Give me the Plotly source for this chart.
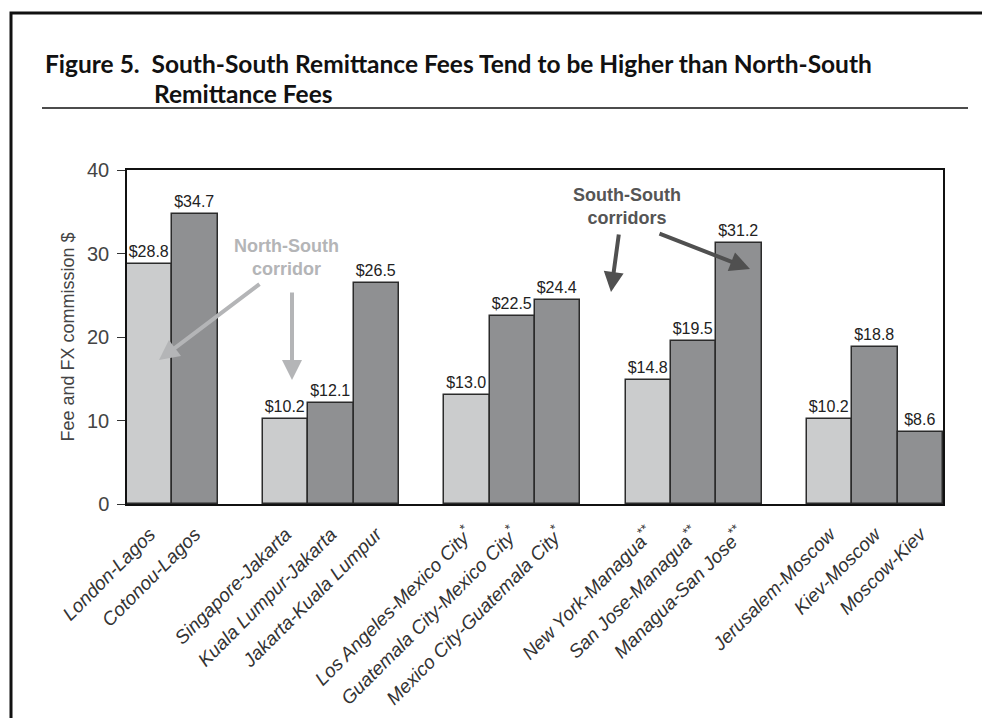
import plotly.graph_objects as go

# ---- data ----
corridors = ["London-Lagos", "Cotonou-Lagos",
             "Singapore-Jakarta", "Kuala Lumpur-Jakarta", "Jakarta-Kuala Lumpur",
             "Los Angeles-Mexico City*", "Guatemala City-Mexico City*", "Mexico City-Guatemala City*",
             "New York-Managua**", "San Jose-Managua**", "Managua-San Jose**",
             "Jerusalem-Moscow", "Kiev-Moscow", "Moscow-Kiev"]
fees = [28.8, 34.7, 10.2, 12.1, 26.5, 13.0, 22.5, 24.4, 14.8, 19.5, 31.2, 10.2, 18.8, 8.6]
corridor_type = ["NS", "SS", "NS", "SS", "SS", "NS", "SS", "SS", "NS", "SS", "SS", "NS", "SS", "SS"]
group_id = [1, 1, 2, 2, 2, 3, 3, 3, 4, 4, 4, 5, 5, 5]

title_line1 = "Figure 5.  South-South Remittance Fees Tend to be Higher than North-South"
title_line2 = "Remittance Fees"
y_title = "Fee and FX commission $"

# category order with blank spacer slots between groups
order = []
prev = None
for c, g in zip(corridors, group_id):
    if prev is not None and g != prev:
        order.append(f"_gap{g}")
    order.append(c)
    prev = g

def tick_label(name):
    base = name.rstrip("*")
    stars = name[len(base):]
    return base + (f"<sup>{stars}</sup>" if stars else "")

LIGHT = "#cbcccd"
DARK = "#8f9092"
SANS = "Liberation Sans, Arial, sans-serif"
fig = go.Figure()
for t, col in (("NS", LIGHT), ("SS", DARK)):
    xs = [c for c, k in zip(corridors, corridor_type) if k == t]
    ys = [v for v, k in zip(fees, corridor_type) if k == t]
    fig.add_trace(go.Bar(
        x=xs, y=ys,
        marker=dict(color=col, line=dict(color="#2b2b2b", width=1.5)),
        text=[f"${v:.1f}" for v in ys], textposition="outside",
        textfont=dict(family=SANS, size=16, color="#222"),
        cliponaxis=False, showlegend=False, hoverinfo="skip"))

# plot area pixels: x 119..935, y 162..496
W, H = 990, 718
L, R, T, B = 119, 935, 162, 496
def px(x):
    return (x - L) / (R - L)
def py(y):
    return (B - y) / (B - T)

fig.update_layout(
    width=W, height=H,
    margin=dict(l=L, r=W - R, t=T, b=H - B),
    paper_bgcolor="white", plot_bgcolor="white",
    barmode="overlay", bargap=0,
    font=dict(family=SANS, color="#333"),
)
fig.update_xaxes(
    type="category", categoryorder="array", categoryarray=order,
    tickmode="array", tickvals=corridors, ticktext=[tick_label(c) for c in corridors],
    tickangle=-45, tickfont=dict(size=19, color="#333", style="italic"),
    ticklabelstandoff=10,
    showline=True, linecolor="#111", linewidth=1.5, mirror=True,
    ticks="", showgrid=False, range=[-0.5, len(order) - 0.5])
fig.update_yaxes(
    range=[0, 40], dtick=10, showgrid=False, zeroline=False,
    showline=True, linecolor="#111", linewidth=1.5, mirror=True,
    ticks="outside", ticklen=8, tickcolor="#333", tickwidth=1.2,
    tickfont=dict(size=20, color="#444"), ticklabelstandoff=4,
    title=dict(text=y_title, font=dict(size=18, color="#444"), standoff=8))

TITLE_FONT = "Lato, Roboto, sans-serif"
ann = [
    dict(text=f"<b>{title_line1}</b>", x=px(35), y=py(55), xanchor="left", yanchor="middle",
         font=dict(family=TITLE_FONT, size=24.5, color="#111")),
    dict(text=f"<b>{title_line2}</b>", x=px(144), y=py(85), xanchor="left", yanchor="middle",
         font=dict(family=TITLE_FONT, size=24.5, color="#111")),
    dict(text="<b>North-South<br>corridor</b>", x=px(278), y=py(249), xanchor="center", yanchor="middle",
         font=dict(size=18, color="#b4b5b7")),
    dict(text="<b>South-South<br>corridors</b>", x=px(619), y=py(198), xanchor="center", yanchor="middle",
         font=dict(size=18, color="#555")),
]
for a in ann:
    a.update(xref="paper", yref="paper", showarrow=False)
arrows = [
    ((151, 352), (253, 275), "#b4b5b7"),
    ((284, 372), (284, 283), "#b4b5b7"),
    ((603, 284), (611, 225), "#505050"),
    ((742, 261), (650, 225), "#505050"),
]
for (hx, hy), (tx, ty), col in arrows:
    ann.append(dict(x=px(hx), y=py(hy), xref="paper", yref="paper", text="",
                    showarrow=True, ax=tx - hx, ay=ty - hy, arrowhead=2, arrowsize=1.0,
                    arrowwidth=4, arrowcolor=col))
fig.update_layout(annotations=ann)

fig.update_layout(shapes=[
    dict(type="rect", xref="paper", yref="paper", x0=px(3), x1=px(987), y0=py(740), y1=py(5),
         line=dict(color="#111", width=3), layer="below"),
    dict(type="line", xref="paper", yref="paper", x0=px(34), x1=px(960), y0=py(100), y1=py(100),
         line=dict(color="#111", width=1.5)),
])

fig.write_html("out.html")
